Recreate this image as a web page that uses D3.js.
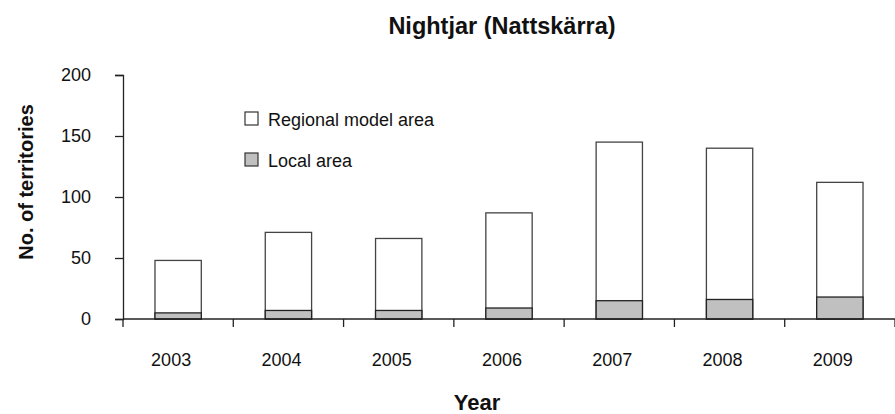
<!DOCTYPE html>
<html>
<head>
<meta charset="utf-8">
<script src="https://cdn.jsdelivr.net/npm/d3@7"></script>
<style>
  body { margin: 0; background: #fff; }
  text { font-family: "Liberation Sans", Arial, sans-serif; fill: #111; }
</style>
</head>
<body>
<div id="chart"></div>
<script>
var years = ["2003", "2004", "2005", "2006", "2007", "2008", "2009"];
var regional = [48, 71, 66, 87, 145, 140, 112];
var local = [5, 7, 7, 9, 15, 16, 18];
var yTicks = [0, 50, 100, 150, 200];
var legendLabels = ["Regional model area", "Local area"];

var width = 895, height = 414;
var plotLeft = 123, plotRight = 895, plotTop = 75, plotBottom = 319;

var svg = d3.select("#chart").append("svg")
    .attr("width", width)
    .attr("height", height);

var x = d3.scaleBand()
    .domain(years)
    .range([plotLeft, plotRight])
    .paddingInner(0.58)
    .paddingOuter(0.29);

var y = d3.scaleLinear()
    .domain([0, 200])
    .range([plotBottom, plotTop]);

// title
svg.append("text")
    .attr("x", 502)
    .attr("y", 34)
    .attr("text-anchor", "middle")
    .style("font-size", "23.5px")
    .style("font-weight", "bold")
    .text("Nightjar (Nattskärra)");

// y axis
var yAxis = svg.append("g")
    .attr("transform", "translate(" + plotLeft + ",0)")
    .call(d3.axisLeft(y).tickValues(yTicks).tickSize(8).tickPadding(24));
yAxis.select(".domain").attr("stroke", "#222").attr("stroke-width", 1.3);
yAxis.selectAll(".tick line").attr("stroke", "#222").attr("stroke-width", 1.3);
yAxis.selectAll(".tick text")
    .style("font-size", "18px")
    .style("font-family", "Liberation Sans, Arial, sans-serif")
    .attr("fill", "#111");

// bars: regional first, local drawn over
svg.selectAll(".reg")
    .data(years)
    .enter().append("rect")
    .attr("class", "reg")
    .attr("x", function(d) { return x(d); })
    .attr("y", function(d, i) { return y(regional[i]); })
    .attr("width", x.bandwidth())
    .attr("height", function(d, i) { return y(0) - y(regional[i]); })
    .attr("fill", "#fff")
    .attr("stroke", "#444")
    .attr("stroke-width", 1.3);

svg.selectAll(".loc")
    .data(years)
    .enter().append("rect")
    .attr("class", "loc")
    .attr("x", function(d) { return x(d); })
    .attr("y", function(d, i) { return y(local[i]); })
    .attr("width", x.bandwidth())
    .attr("height", function(d, i) { return y(0) - y(local[i]); })
    .attr("fill", "#c0c0c0")
    .attr("stroke", "#222")
    .attr("stroke-width", 1.3);

// x axis line and ticks at category edges
var step = x.step();
var edges = years.map(function(d) { return x(d) - step * x.paddingInner() / 2; });
edges.push(plotRight);

svg.append("line")
    .attr("x1", plotLeft).attr("x2", plotRight)
    .attr("y1", y(0)).attr("y2", y(0))
    .attr("stroke", "#222")
    .attr("stroke-width", 1.3);

svg.selectAll(".xtick")
    .data(edges)
    .enter().append("line")
    .attr("class", "xtick")
    .attr("x1", function(d) { return d; })
    .attr("x2", function(d) { return d; })
    .attr("y1", y(0))
    .attr("y2", y(0) + 8)
    .attr("stroke", "#222")
    .attr("stroke-width", 1.3);

svg.selectAll(".xlabel")
    .data(years)
    .enter().append("text")
    .attr("class", "xlabel")
    .attr("x", function(d) { return x(d) + x.bandwidth() / 2 - 7; })
    .attr("y", 366)
    .attr("text-anchor", "middle")
    .style("font-size", "18px")
    .text(function(d) { return d; });

// axis titles
svg.append("text")
    .attr("x", 477)
    .attr("y", 410)
    .attr("text-anchor", "middle")
    .style("font-size", "22px")
    .style("font-weight", "bold")
    .text("Year");

svg.append("text")
    .attr("transform", "translate(33,182) rotate(-90)")
    .attr("text-anchor", "middle")
    .style("font-size", "20px")
    .style("font-weight", "bold")
    .text("No. of territories");

// legend
var legend = svg.selectAll(".legend")
    .data(legendLabels)
    .enter().append("g")
    .attr("class", "legend")
    .attr("transform", function(d, i) { return "translate(245," + (112 + i * 41) + ")"; });

legend.append("rect")
    .attr("width", 13)
    .attr("height", 13)
    .attr("fill", function(d, i) { return i === 0 ? "#fff" : "#c0c0c0"; })
    .attr("stroke", "#333")
    .attr("stroke-width", 1.2);

legend.append("text")
    .attr("x", 23)
    .attr("y", 13.5)
    .style("font-size", "18px")
    .text(function(d) { return d; });
</script>
</body>
</html>
